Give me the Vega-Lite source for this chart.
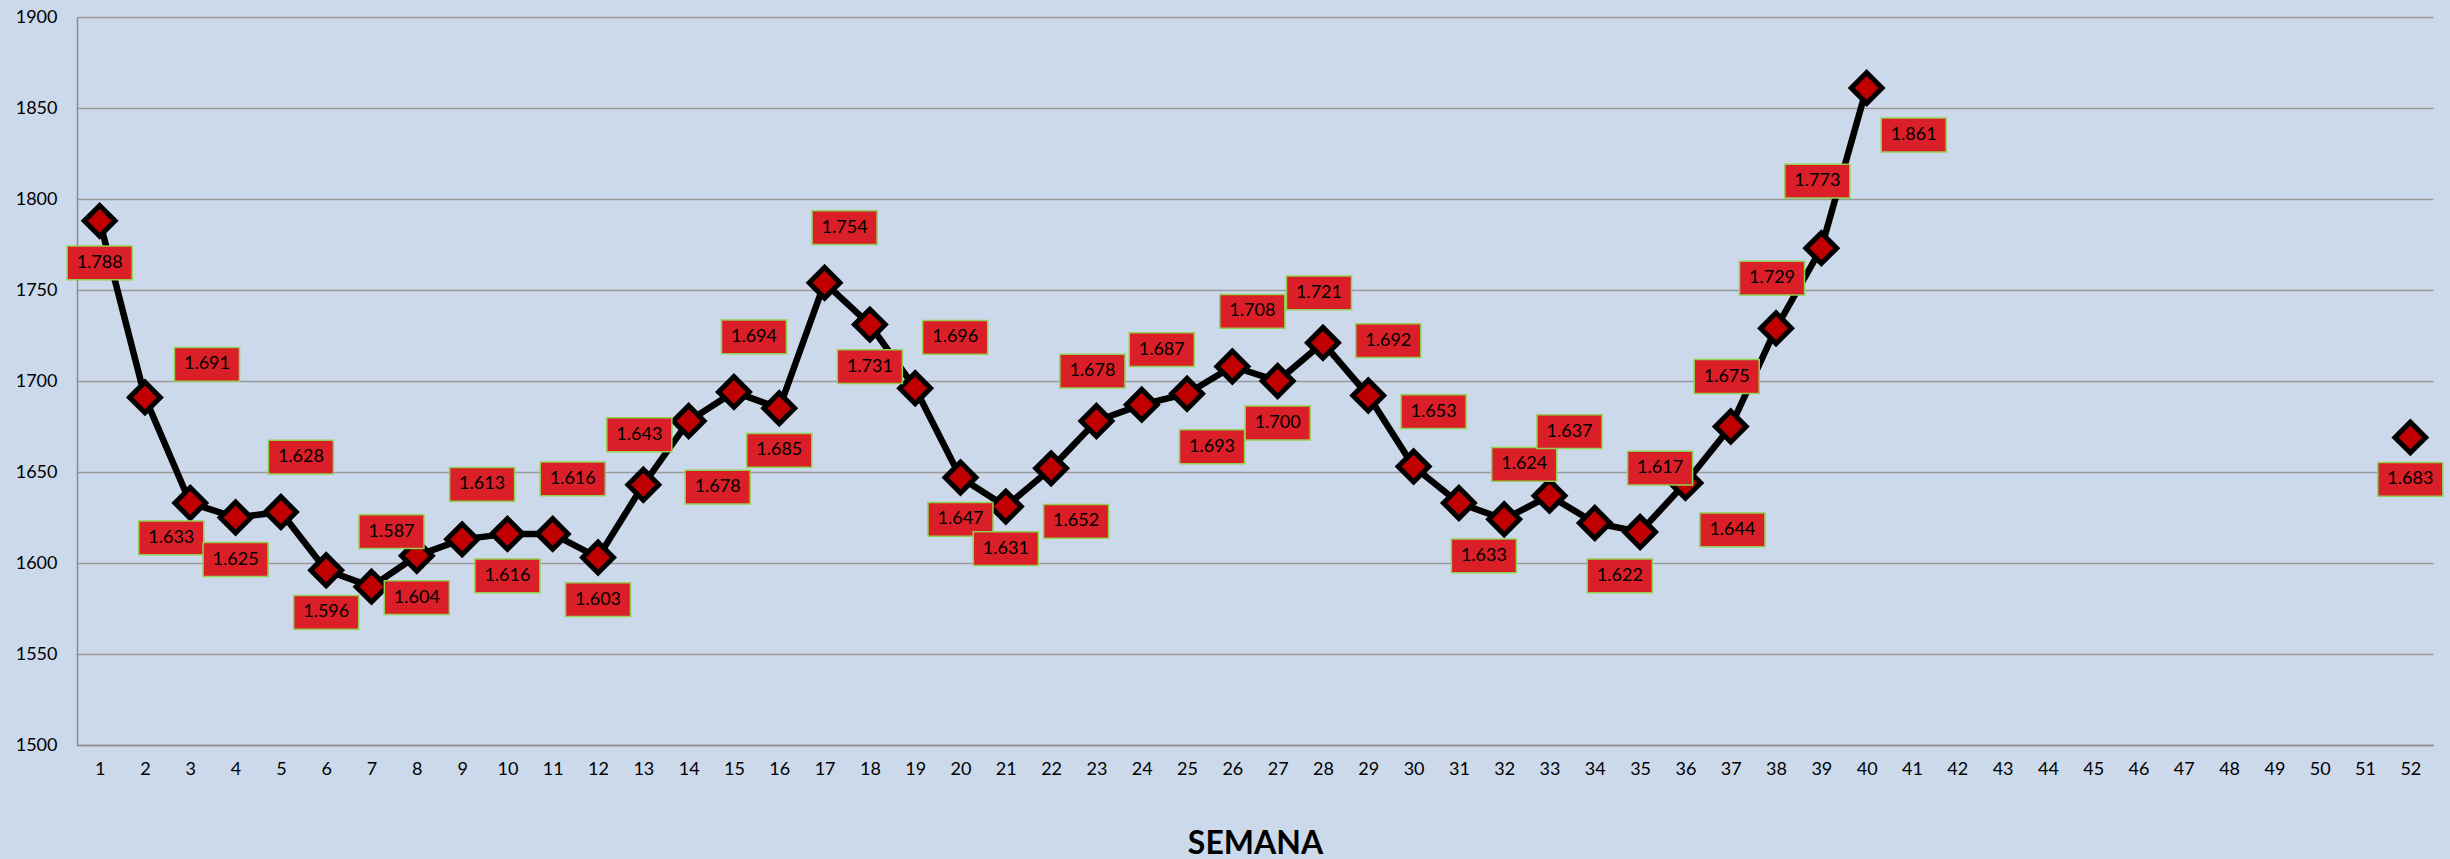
{
  "$schema": "https://vega.github.io/schema/vega-lite/v6.json",
  "width": 2356,
  "height": 728,
  "autosize": {"type": "none"},
  "padding": {"left": 77, "top": 17, "right": 17, "bottom": 114},
  "background": "#CCD9EB",
  "config": {"view": {"stroke": null}, "font": "Lato"},
  "data": {
    "values": [
      {"week": 1, "value": 1788, "label": "1.788", "pos": "b"},
      {"week": 2, "value": 1691, "label": "1.691", "pos": "r"},
      {"week": 3, "value": 1633, "label": "1.633", "pos": "bl"},
      {"week": 4, "value": 1625, "label": "1.625", "pos": "b"},
      {"week": 5, "value": 1628, "label": "1.628", "pos": "ar"},
      {"week": 6, "value": 1596, "label": "1.596", "pos": "b"},
      {"week": 7, "value": 1587, "label": "1.587", "pos": "ar"},
      {"week": 8, "value": 1604, "label": "1.604", "pos": "b"},
      {"week": 9, "value": 1613, "label": "1.613", "pos": "ar"},
      {"week": 10, "value": 1616, "label": "1.616", "pos": "b"},
      {"week": 11, "value": 1616, "label": "1.616", "pos": "ar"},
      {"week": 12, "value": 1603, "label": "1.603", "pos": "b"},
      {"week": 13, "value": 1643, "label": "1.643", "pos": "a"},
      {"week": 14, "value": 1678, "label": "1.678", "pos": "br2"},
      {"week": 15, "value": 1694, "label": "1.694", "pos": "ar"},
      {"week": 16, "value": 1685, "label": "1.685", "pos": "b"},
      {"week": 17, "value": 1754, "label": "1.754", "pos": "ar"},
      {"week": 18, "value": 1731, "label": "1.731", "pos": "b"},
      {"week": 19, "value": 1696, "label": "1.696", "pos": "ar3"},
      {"week": 20, "value": 1647, "label": "1.647", "pos": "b"},
      {"week": 21, "value": 1631, "label": "1.631", "pos": "b"},
      {"week": 22, "value": 1652, "label": "1.652", "pos": "br"},
      {"week": 23, "value": 1678, "label": "1.678", "pos": "a"},
      {"week": 24, "value": 1687, "label": "1.687", "pos": "ar"},
      {"week": 25, "value": 1693, "label": "1.693", "pos": "br"},
      {"week": 26, "value": 1708, "label": "1.708", "pos": "ar"},
      {"week": 27, "value": 1700, "label": "1.700", "pos": "b"},
      {"week": 28, "value": 1721, "label": "1.721", "pos": "a"},
      {"week": 29, "value": 1692, "label": "1.692", "pos": "ar"},
      {"week": 30, "value": 1653, "label": "1.653", "pos": "ar"},
      {"week": 31, "value": 1633, "label": "1.633", "pos": "br"},
      {"week": 32, "value": 1624, "label": "1.624", "pos": "ar"},
      {"week": 33, "value": 1637, "label": "1.637", "pos": "ar2"},
      {"week": 34, "value": 1622, "label": "1.622", "pos": "br"},
      {"week": 35, "value": 1617, "label": "1.617", "pos": "ar2"},
      {"week": 36, "value": 1644, "label": "1.644", "pos": "brr"},
      {"week": 37, "value": 1675, "label": "1.675", "pos": "a"},
      {"week": 38, "value": 1729, "label": "1.729", "pos": "a"},
      {"week": 39, "value": 1773, "label": "1.773", "pos": "aa"},
      {"week": 40, "value": 1861, "label": "1.861", "pos": "brr"},
      {"week": 52, "value": 1669, "label": "1.683", "pos": "b"}
    ]
  },
  "encoding": {
    "x": {
      "field": "week",
      "type": "quantitative",
      "scale": {"domain": [0.5, 52.5], "nice": false, "zero": false},
      "axis": {
        "values": [1,2,3,4,5,6,7,8,9,10,11,12,13,14,15,16,17,18,19,20,21,22,23,24,25,26,27,28,29,30,31,32,33,34,35,36,37,38,39,40,41,42,43,44,45,46,47,48,49,50,51,52],
        "format": "d",
        "title": "SEMANA",
        "grid": false,
        "ticks": false,
        "tickSize": 0,
        "domainColor": "#8C8C8C",
        "domainWidth": 1.5,
        "labelFontSize": 18,
        "labelColor": "#000000",
        "labelPadding": 15,
        "labelFlush": false,
        "labelOverlap": false,
        "titleFontSize": 32,
        "titleFontWeight": "bold",
        "titleColor": "#000000",
        "titlePadding": 50
      }
    },
    "y": {
      "field": "value",
      "type": "quantitative",
      "scale": {"domain": [1500, 1900], "nice": false, "zero": false},
      "axis": {
        "values": [1500, 1550, 1600, 1650, 1700, 1750, 1800, 1850, 1900],
        "format": "d",
        "title": null,
        "grid": true,
        "gridColor": "#9A9A9A",
        "gridWidth": 1.5,
        "ticks": false,
        "tickSize": 0,
        "domainColor": "#8C8C8C",
        "domainWidth": 1.5,
        "labelFontSize": 18,
        "labelColor": "#000000",
        "labelPadding": 20
      }
    }
  },
  "layer": [
    {
      "transform": [{"filter": "datum.week <= 40"}],
      "mark": {"type": "line", "color": "#000000", "strokeWidth": 6.5}
    },
    {
      "mark": {"type": "point", "shape": "diamond", "size": 950, "filled": true, "fill": "#C00000", "stroke": "#000000", "strokeWidth": 5, "opacity": 1}
    },
    {
      "mark": {
        "type": "point",
        "shape": "M-1,-0.52H1V0.52H-1Z",
        "size": 4225,
        "filled": true,
        "fill": "#DA1F28",
        "stroke": "#92D050",
        "strokeWidth": 1.5,
        "opacity": 1,
        "xOffset": {"expr": "datum.pos=='r'?62:datum.pos=='bl'?-19:(datum.pos=='a'||datum.pos=='aa')?-4:(datum.pos=='ar'||datum.pos=='ar2')?20:datum.pos=='ar3'?40:datum.pos=='br'?25:datum.pos=='br2'?29:datum.pos=='brr'?47:0"},
        "yOffset": {"expr": "datum.pos=='r'?-33:datum.pos=='bl'?35:datum.pos=='a'?-50:datum.pos=='aa'?-67:datum.pos=='ar'?-55:datum.pos=='ar2'?-64:datum.pos=='ar3'?-51:datum.pos=='br'?53:datum.pos=='br2'?66:datum.pos=='brr'?47:42"}
      }
    },
    {
      "mark": {
        "type": "text",
        "fontSize": 18,
        "color": "#000000",
        "align": "center",
        "baseline": "middle",
        "xOffset": {"expr": "datum.pos=='r'?62:datum.pos=='bl'?-19:(datum.pos=='a'||datum.pos=='aa')?-4:(datum.pos=='ar'||datum.pos=='ar2')?20:datum.pos=='ar3'?40:datum.pos=='br'?25:datum.pos=='br2'?29:datum.pos=='brr'?47:0"},
        "yOffset": {"expr": "datum.pos=='r'?-33:datum.pos=='bl'?35:datum.pos=='a'?-50:datum.pos=='aa'?-67:datum.pos=='ar'?-55:datum.pos=='ar2'?-64:datum.pos=='ar3'?-51:datum.pos=='br'?53:datum.pos=='br2'?66:datum.pos=='brr'?47:42"}
      },
      "encoding": {"text": {"field": "label"}}
    }
  ]
}
